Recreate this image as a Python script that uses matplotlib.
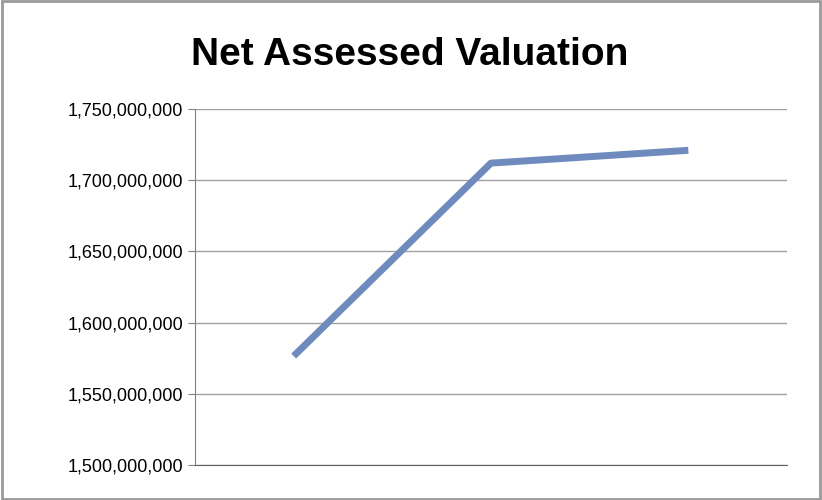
import matplotlib.pyplot as plt
import numpy as np

categories = ['1', '2', '3']
values = [1576500000, 1712000000, 1721000000]
yticks = [1500000000, 1550000000, 1600000000, 1650000000, 1700000000, 1750000000]

fig = plt.figure(figsize=(8.22, 5.0), dpi=100)
ax = fig.add_axes([195/822, 1 - 465/500, (787-195)/822, (465-109)/500])

x = np.arange(len(categories))
ax.plot(x, values, color='#6f8bbd', lw=5, solid_capstyle='butt')
ax.set_xlim(-0.5, 2.5)
ax.set_ylim(yticks[0], yticks[-1])
ax.set_yticks(yticks)
ax.set_yticklabels([f'{v:,}' for v in yticks], fontsize=13, family='Liberation Sans')
ax.set_xticks([])
ax.grid(axis='y', color='#a0a0a0', lw=1)
ax.tick_params(axis='y', length=5, color='#808080')
for s in ['top', 'right']:
    ax.spines[s].set_visible(False)
ax.spines['left'].set_color('#808080')
ax.spines['bottom'].set_color('#606060')

fig.text(410/822, 1 - 55/500, 'Net Assessed Valuation', ha='center', va='center',
         fontsize=28, fontweight='bold', family='Liberation Sans')
fig.patches.append(plt.Rectangle((0.002, 0.002), 0.996, 0.996, transform=fig.transFigure,
                                 fill=False, ec='#9a9a9a', lw=2))
fig.savefig('out.png', dpi=100)
